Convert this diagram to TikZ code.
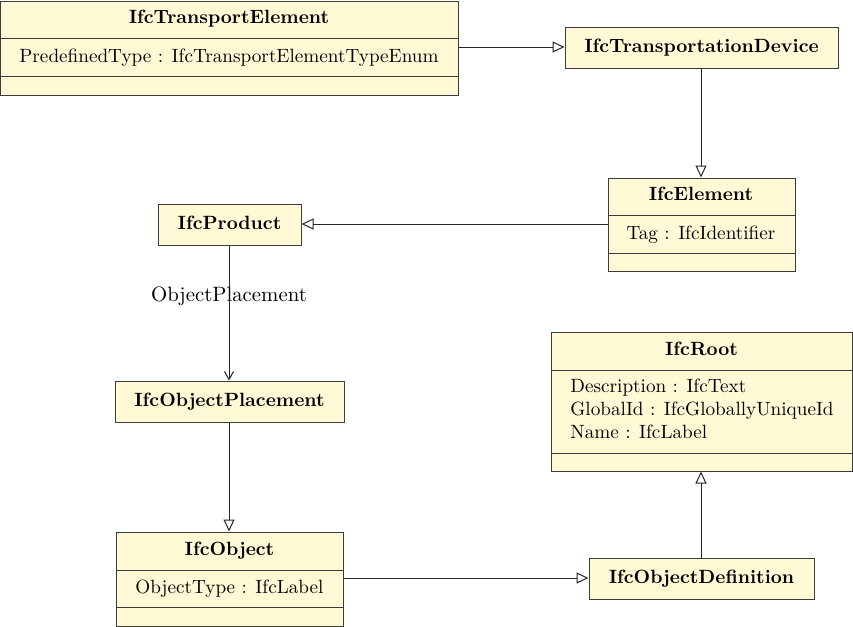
\documentclass[tikz,border=0pt]{standalone}
\usetikzlibrary{arrows.meta,fit}
\definecolor{classfill}{RGB}{255,249,214}
\definecolor{classline}{RGB}{60,60,60}
\tikzset{
  cls/.style={draw=classline, fill=classfill, line width=0.5pt, inner sep=0pt, rectangle},
  divider/.style={draw=classline, line width=0.5pt},
  title/.style={font=\fontsize{9.6}{11.5}\selectfont\bfseries, inner sep=0pt, text height=7pt, text depth=2pt},
  attr/.style={font=\fontsize{9.6}{11.5}\selectfont, inner sep=0pt, text height=7pt, text depth=2pt},
  rolelabel/.style={font=\fontsize{10.4}{12.5}\selectfont, inner sep=0pt, text height=7pt, text depth=2pt},
  inherit/.style={draw=black!85, line width=0.5pt, -{Triangle[open,length=6pt,width=5.5pt]}},
  assoc/.style={draw=black!85, line width=0.5pt, -{Straight Barb[length=4pt,width=4.5pt]}},
}
\begin{document}
\begin{tikzpicture}[x=0.5pt,y=-0.5pt]
\useasboundingbox (0,0) rectangle (853,627);
% IfcTransportElement
\node[cls, fit={(0,1) (458,95)}] (te) {};
\draw[divider] (0,38) -- (458,38);
\draw[divider] (0,76) -- (458,76);
\node[title] (tet) at (229,18) {IfcTransportElement};
\node[attr] (tea) at (229,57) {PredefinedType : IfcTransportElementTypeEnum};
% IfcTransportationDevice
\node[cls, fit={(565,27) (838,68)}] (td) {};
\node[title] (tdt) at (td.center) {IfcTransportationDevice};
% IfcElement
\node[cls, fit={(608,178) (795,271)}] (el) {};
\draw[divider] (608,215) -- (795,215);
\draw[divider] (608,253) -- (795,253);
\node[title] (elt) at (701,195) {IfcElement};
\node[attr] (ela) at (701,234) {Tag : IfcIdentifier};
% IfcProduct
\node[cls, fit={(158,204) (301,245)}] (pr) {};
\node[title] (prt) at (pr.center) {IfcProduct};
% IfcObjectPlacement
\node[cls, fit={(115,381) (344,422)}] (op) {};
\node[title] (opt) at (op.center) {IfcObjectPlacement};
% IfcObject
\node[cls, fit={(116,532) (343,626)}] (ob) {};
\draw[divider] (116,570) -- (343,570);
\draw[divider] (116,607) -- (343,607);
\node[title] (obt) at (229.5,550) {IfcObject};
\node[attr] (oba) at (229.5,588) {ObjectType : IfcLabel};
% IfcObjectDefinition
\node[cls, fit={(589,558) (814,599)}] (od) {};
\node[title] (odt) at (od.center) {IfcObjectDefinition};
% IfcRoot
\node[cls, fit={(551,332) (852,471)}] (ro) {};
\draw[divider] (551,370) -- (852,370);
\draw[divider] (551,453) -- (852,453);
\node[title] (rot) at (701.5,350) {IfcRoot};
\node[attr, anchor=west] (roa1) at (570,387) {Description : IfcText};
\node[attr, anchor=west] (roa2) at (570,410) {GlobalId : IfcGloballyUniqueId};
\node[attr, anchor=west] (roa3) at (570,433) {Name : IfcLabel};
% connectors
\draw[inherit] (te.east |- 0,47) -- (td.west |- 0,47);
\draw[inherit] (td.south -| 701,0) -- (el.north -| 701,0);
\draw[inherit] (el.west |- 0,224) -- (pr.east |- 0,224);
\draw[assoc] (pr.south -| 229,0) -- node[rolelabel, pos=0.375] (lbl) {ObjectPlacement} (op.north -| 229,0);
\draw[inherit] (op.south -| 229,0) -- (ob.north -| 229,0);
\draw[inherit] (ob.east |- 0,578) -- (od.west |- 0,578);
\draw[inherit] (od.north -| 701,0) -- (ro.south -| 701,0);
\end{tikzpicture}
\end{document}
